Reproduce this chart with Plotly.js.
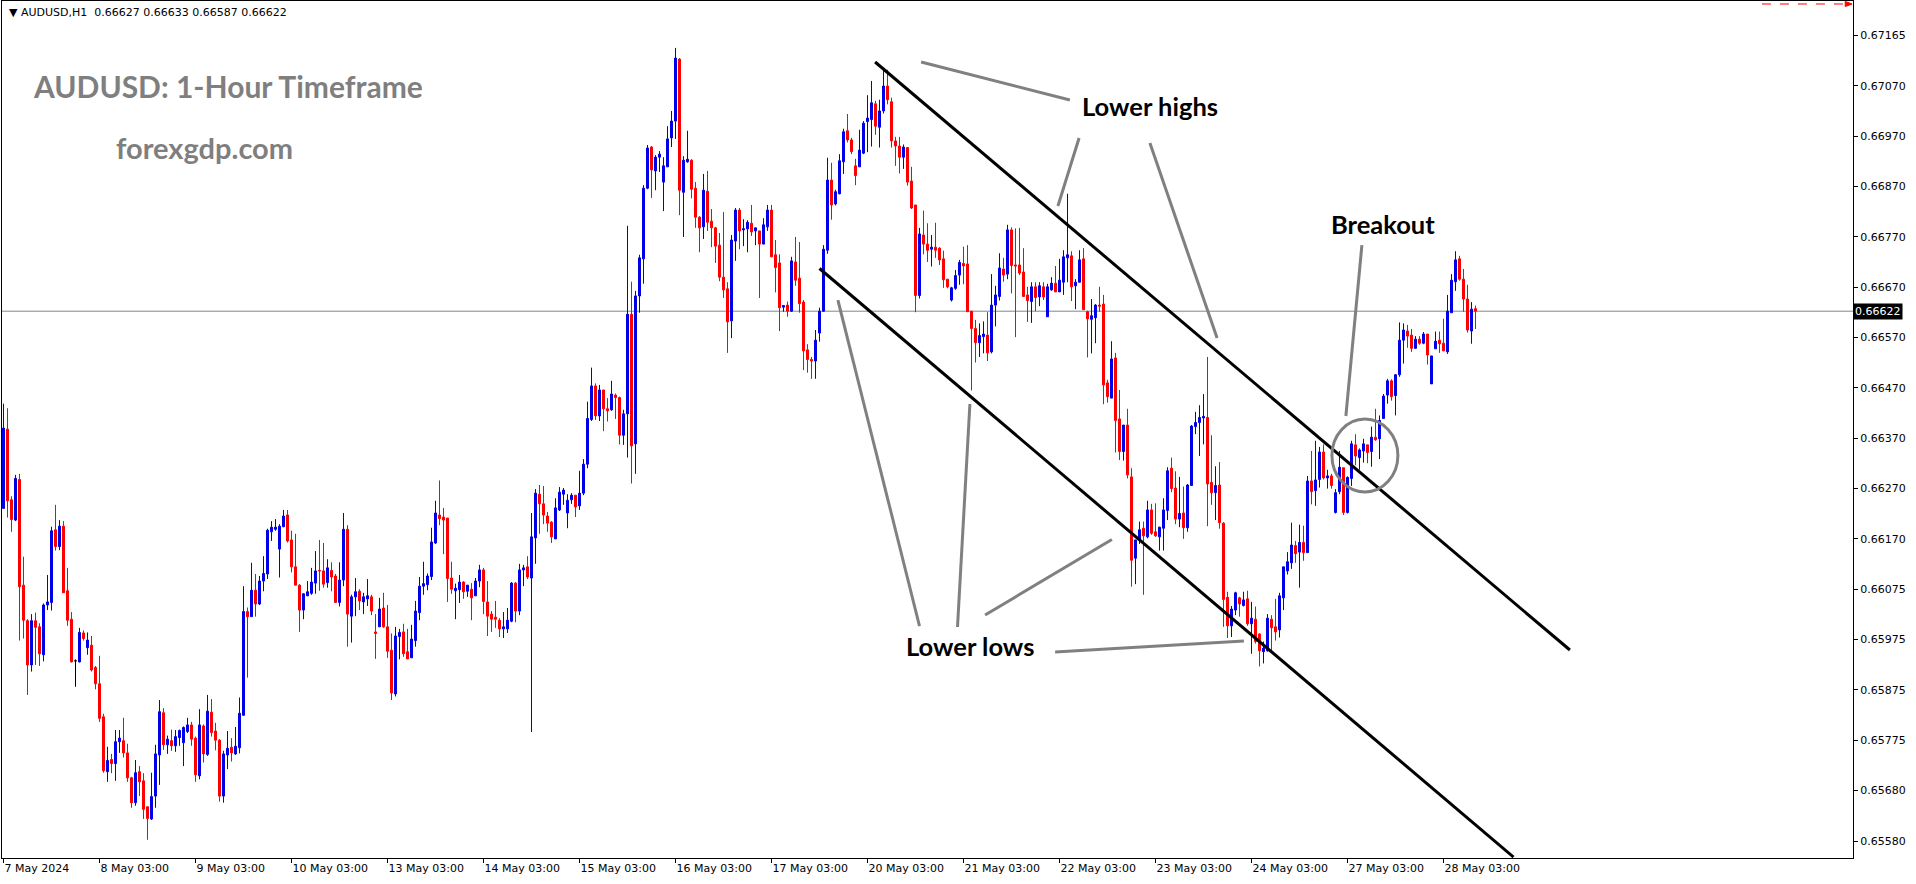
<!DOCTYPE html>
<html><head><meta charset="utf-8">
<script src="https://cdn.plot.ly/plotly-3.0.1.min.js"></script>
<style>html,body{margin:0;padding:0;background:#fff;}#chart{width:1916px;height:884px;}</style>
</head><body><div id="chart"></div>
<script>
// ---- header / last bar ----
const symbolLabel = "AUDUSD,H1";
const lastBarOHLC = ["0.66627", "0.66633", "0.66587", "0.66622"];
const bidPrice = 0.66622;

// ---- hourly candles, bar 0 = 7 May 2024 ----
const openP = [
0.66234,0.66390,0.66251,0.66211,0.66291,0.66083,0.66013,0.65926,0.66013,0.66001,
0.65946,0.66044,0.66049,0.66192,0.66159,0.66199,0.66072,0.66016,0.65934,0.65932,
0.65989,0.65960,0.65965,0.65921,0.65889,0.65824,0.65716,0.65740,0.65732,0.65775,
0.65777,0.65753,0.65704,0.65655,0.65716,0.65698,0.65647,0.65623,0.65668,0.65749,
0.65832,0.65769,0.65777,0.65767,0.65783,0.65773,0.65795,0.65808,0.65782,0.65708,
0.65806,0.65750,0.65833,0.65796,0.65778,0.65668,0.65749,0.65764,0.65751,0.65763,
0.65827,0.66031,0.66021,0.66073,0.66046,0.66091,0.66105,0.66188,0.66193,0.66154,
0.66198,0.66221,0.66172,0.66119,0.66083,0.66034,0.66062,0.66067,0.66087,0.66112,
0.66111,0.66088,0.66112,0.66101,0.66049,0.66093,0.66193,0.66022,0.66060,0.66071,
0.66050,0.66056,0.66060,0.65991,0.66001,0.66038,0.66001,0.65955,0.65869,0.65982,
0.65991,0.65952,0.65940,0.65974,0.66029,0.66081,0.66084,0.66100,0.66166,0.66221,
0.66217,0.66215,0.66097,0.66072,0.66074,0.66089,0.66071,0.66075,0.66062,0.66091,
0.66113,0.66050,0.66026,0.66020,0.66014,0.65997,0.65997,0.66012,0.66087,0.66032,
0.66113,0.66119,0.66097,0.66176,0.66262,0.66243,0.66219,0.66207,0.66174,0.66231,
0.66262,0.66225,0.66251,0.66260,0.66239,0.66264,0.66321,0.66409,0.66475,0.66416,
0.66467,0.66430,0.66428,0.66457,0.66452,0.66378,0.66420,0.66616,0.66361,0.66652,
0.66725,0.66864,0.66945,0.66898,0.66925,0.66876,0.66906,0.66963,0.66996,0.67118,
0.66856,0.66916,0.66919,0.66864,0.66807,0.66788,0.66858,0.66799,0.66786,0.66752,
0.66689,0.66666,0.66603,0.66760,0.66821,0.66782,0.66784,0.66795,0.66780,0.66780,
0.66754,0.66788,0.66821,0.66733,0.66717,0.66630,0.66634,0.66622,0.66719,0.66687,
0.66640,0.66546,0.66527,0.66524,0.66579,0.66622,0.66742,0.66880,0.66833,0.66853,
0.66916,0.66977,0.66959,0.66908,0.66906,0.66933,0.66995,0.66999,0.67030,0.66984,
0.67016,0.67065,0.67034,0.66957,0.66947,0.66925,0.66944,0.66878,0.66831,0.66653,
0.66772,0.66754,0.66744,0.66748,0.66746,0.66725,0.66685,0.66644,0.66667,0.66693,
0.66716,0.66715,0.66622,0.66588,0.66560,0.66572,0.66575,0.66542,0.66634,0.66651,
0.66705,0.66695,0.66782,0.66713,0.66713,0.66699,0.66654,0.66641,0.66670,0.66650,
0.66670,0.66611,0.66664,0.66677,0.66660,0.66679,0.66727,0.66731,0.66672,0.66679,
0.66725,0.66621,0.66606,0.66609,0.66634,0.66636,0.66481,0.66451,0.66530,0.66410,
0.66346,0.66398,0.66296,0.66136,0.66172,0.66195,0.66178,0.66231,0.66188,0.66178,
0.66195,0.66230,0.66313,0.66274,0.66213,0.66225,0.66196,0.66279,0.66395,0.66403,
0.66412,0.66413,0.66285,0.66265,0.66280,0.66205,0.66059,0.66003,0.66034,0.66058,
0.66043,0.66056,0.66007,0.66016,0.65987,0.65952,0.65954,0.66016,0.66001,0.65995,
0.66058,0.66111,0.66127,0.66161,0.66148,0.66167,0.66147,0.66288,0.66269,0.66291,
0.66345,0.66294,0.66298,0.66226,0.66267,0.66314,0.66226,0.66293,0.66359,0.66334,
0.66347,0.66359,0.66346,0.66374,0.66371,0.66411,0.66457,0.66485,0.66456,0.66497,
0.66565,0.66583,0.66575,0.66549,0.66567,0.66559,0.66577,0.66479,0.66548,0.66565,
0.66559,0.66542,0.66619,0.66680,0.66725,0.66685,0.66646,0.66583,0.66627];

const highP = [
0.66440,0.66431,0.66258,0.66300,0.66302,0.66139,0.66016,0.66026,0.66029,0.66008,
0.66047,0.66103,0.66198,0.66241,0.66211,0.66209,0.66117,0.66030,0.65937,0.65999,
0.65994,0.65990,0.65983,0.65924,0.65944,0.65830,0.65765,0.65751,0.65798,0.65798,
0.65822,0.65771,0.65706,0.65739,0.65727,0.65713,0.65647,0.65714,0.65769,0.65857,
0.65841,0.65787,0.65799,0.65798,0.65799,0.65805,0.65822,0.65814,0.65785,0.65839,
0.65809,0.65867,0.65859,0.65812,0.65780,0.65757,0.65796,0.65782,0.65804,0.65862,
0.66081,0.66039,0.66127,0.66105,0.66101,0.66140,0.66194,0.66209,0.66213,0.66203,
0.66231,0.66231,0.66190,0.66184,0.66085,0.66067,0.66091,0.66117,0.66150,0.66172,
0.66166,0.66134,0.66128,0.66105,0.66128,0.66225,0.66201,0.66064,0.66097,0.66075,
0.66068,0.66095,0.66064,0.66026,0.66058,0.66068,0.66044,0.65988,0.66001,0.65997,
0.66007,0.65997,0.66005,0.66052,0.66099,0.66129,0.66106,0.66196,0.66249,0.66289,
0.66235,0.66215,0.66129,0.66086,0.66103,0.66091,0.66083,0.66087,0.66097,0.66123,
0.66117,0.66091,0.66032,0.66052,0.66018,0.66030,0.66038,0.66089,0.66089,0.66125,
0.66123,0.66140,0.66225,0.66272,0.66280,0.66278,0.66227,0.66209,0.66254,0.66276,
0.66274,0.66262,0.66264,0.66260,0.66308,0.66331,0.66444,0.66511,0.66480,0.66477,
0.66467,0.66451,0.66485,0.66460,0.66454,0.66428,0.66790,0.66680,0.66662,0.66733,
0.66870,0.66949,0.66947,0.66929,0.66937,0.66925,0.66986,0.67016,0.67140,0.67120,
0.66927,0.66977,0.66921,0.66876,0.66809,0.66892,0.66898,0.66823,0.66788,0.66776,
0.66817,0.66679,0.66772,0.66825,0.66825,0.66803,0.66801,0.66831,0.66786,0.66780,
0.66805,0.66831,0.66831,0.66762,0.66734,0.66633,0.66641,0.66729,0.66768,0.66758,
0.66644,0.66557,0.66532,0.66585,0.66629,0.66752,0.66924,0.66914,0.66861,0.66931,
0.66981,0.67010,0.66963,0.66922,0.66979,0.66996,0.67047,0.67075,0.67036,0.67038,
0.67095,0.67097,0.67042,0.66965,0.66965,0.66950,0.66944,0.66906,0.66831,0.66786,
0.66820,0.66795,0.66772,0.66796,0.66748,0.66741,0.66685,0.66670,0.66703,0.66723,
0.66749,0.66752,0.66622,0.66605,0.66598,0.66602,0.66620,0.66695,0.66672,0.66736,
0.66727,0.66792,0.66787,0.66785,0.66786,0.66746,0.66670,0.66679,0.66679,0.66679,
0.66679,0.66676,0.66689,0.66711,0.66725,0.66742,0.66853,0.66740,0.66685,0.66742,
0.66746,0.66623,0.66646,0.66636,0.66670,0.66654,0.66487,0.66563,0.66540,0.66467,
0.66398,0.66430,0.66313,0.66172,0.66208,0.66208,0.66249,0.66243,0.66244,0.66198,
0.66254,0.66315,0.66334,0.66307,0.66296,0.66277,0.66282,0.66398,0.66424,0.66437,
0.66459,0.66532,0.66378,0.66317,0.66325,0.66207,0.66070,0.66042,0.66070,0.66060,
0.66070,0.66072,0.66050,0.66041,0.65988,0.65972,0.66026,0.66024,0.66056,0.66068,
0.66119,0.66148,0.66206,0.66170,0.66202,0.66200,0.66298,0.66347,0.66367,0.66355,
0.66360,0.66310,0.66302,0.66272,0.66347,0.66314,0.66297,0.66367,0.66380,0.66352,
0.66371,0.66359,0.66395,0.66430,0.66417,0.66459,0.66489,0.66488,0.66498,0.66600,
0.66598,0.66595,0.66587,0.66573,0.66573,0.66581,0.66577,0.66534,0.66582,0.66582,
0.66607,0.66654,0.66695,0.66740,0.66731,0.66705,0.66674,0.66640,0.66633];

const lowP = [
0.66234,0.66216,0.66188,0.66209,0.65974,0.65978,0.65867,0.65913,0.65926,0.65924,
0.65933,0.66034,0.66033,0.66151,0.66152,0.66068,0.66003,0.65931,0.65883,0.65931,
0.65974,0.65946,0.65913,0.65878,0.65814,0.65714,0.65696,0.65713,0.65698,0.65753,
0.65744,0.65696,0.65645,0.65649,0.65668,0.65623,0.65582,0.65621,0.65645,0.65690,
0.65759,0.65751,0.65757,0.65755,0.65767,0.65727,0.65792,0.65767,0.65696,0.65701,
0.65734,0.65747,0.65785,0.65758,0.65657,0.65655,0.65721,0.65736,0.65749,0.65752,
0.65826,0.65901,0.66021,0.66021,0.66044,0.66071,0.66095,0.66170,0.66190,0.66098,
0.66197,0.66167,0.66108,0.66083,0.65991,0.66016,0.66062,0.66064,0.66066,0.66072,
0.66078,0.66078,0.66071,0.66049,0.66041,0.66081,0.65962,0.65970,0.66022,0.66034,
0.66026,0.66042,0.66024,0.65938,0.66001,0.65999,0.65940,0.65857,0.65864,0.65937,
0.65942,0.65938,0.65940,0.65962,0.66014,0.66064,0.66073,0.66093,0.66164,0.66201,
0.66144,0.66050,0.66066,0.66016,0.66048,0.66056,0.66060,0.66014,0.66062,0.66079,
0.66026,0.65983,0.65991,0.65999,0.65981,0.65979,0.65989,0.66010,0.66010,0.66024,
0.66081,0.66095,0.65794,0.66125,0.66184,0.66203,0.66188,0.66166,0.66174,0.66229,
0.66241,0.66195,0.66243,0.66217,0.66231,0.66260,0.66313,0.66406,0.66408,0.66406,
0.66386,0.66405,0.66426,0.66410,0.66360,0.66359,0.66334,0.66283,0.66302,0.66619,
0.66676,0.66862,0.66845,0.66860,0.66896,0.66819,0.66906,0.66945,0.66961,0.66811,
0.66768,0.66914,0.66844,0.66786,0.66738,0.66764,0.66780,0.66748,0.66717,0.66681,
0.66648,0.66540,0.66569,0.66721,0.66744,0.66750,0.66738,0.66770,0.66752,0.66648,
0.66754,0.66780,0.66729,0.66659,0.66583,0.66621,0.66611,0.66621,0.66672,0.66619,
0.66506,0.66501,0.66489,0.66489,0.66562,0.66621,0.66735,0.66802,0.66830,0.66852,
0.66892,0.66954,0.66931,0.66870,0.66906,0.66931,0.66935,0.66946,0.66969,0.66944,
0.67011,0.67029,0.66944,0.66908,0.66893,0.66902,0.66869,0.66823,0.66620,0.66647,
0.66734,0.66719,0.66710,0.66727,0.66713,0.66668,0.66667,0.66641,0.66664,0.66674,
0.66675,0.66621,0.66466,0.66521,0.66532,0.66539,0.66524,0.66539,0.66592,0.66643,
0.66680,0.66685,0.66657,0.66571,0.66693,0.66651,0.66601,0.66599,0.66622,0.66632,
0.66644,0.66611,0.66662,0.66660,0.66660,0.66654,0.66679,0.66642,0.66626,0.66679,
0.66625,0.66531,0.66539,0.66559,0.66621,0.66439,0.66442,0.66451,0.66344,0.66329,
0.66328,0.66293,0.66080,0.66085,0.66164,0.66064,0.66175,0.66182,0.66178,0.66151,
0.66151,0.66211,0.66266,0.66203,0.66197,0.66174,0.66188,0.66279,0.66380,0.66337,
0.66360,0.66199,0.66241,0.66211,0.66194,0.66001,0.65979,0.65981,0.66024,0.66021,
0.66041,0.66003,0.65948,0.65968,0.65923,0.65929,0.65952,0.65954,0.65974,0.65980,
0.66034,0.66104,0.66115,0.66127,0.66078,0.66131,0.66147,0.66242,0.66239,0.66275,
0.66291,0.66273,0.66273,0.66224,0.66262,0.66221,0.66224,0.66278,0.66319,0.66310,
0.66324,0.66323,0.66316,0.66367,0.66331,0.66411,0.66440,0.66446,0.66417,0.66493,
0.66519,0.66550,0.66542,0.66548,0.66556,0.66557,0.66517,0.66479,0.66548,0.66540,
0.66544,0.66538,0.66619,0.66662,0.66682,0.66621,0.66580,0.66558,0.66587];

const closeP = [
0.66392,0.66249,0.66212,0.66293,0.66080,0.66014,0.65926,0.66013,0.66000,0.65948,
0.66044,0.66050,0.66190,0.66159,0.66199,0.66068,0.66014,0.65932,0.65934,0.65990,
0.65978,0.65975,0.65916,0.65889,0.65821,0.65718,0.65738,0.65732,0.65775,0.65782,
0.65753,0.65704,0.65655,0.65714,0.65696,0.65642,0.65624,0.65667,0.65751,0.65834,
0.65769,0.65780,0.65767,0.65785,0.65797,0.65803,0.65808,0.65780,0.65710,0.65808,
0.65751,0.65835,0.65793,0.65778,0.65668,0.65751,0.65762,0.65753,0.65766,0.65831,
0.66031,0.66021,0.66073,0.66046,0.66091,0.66106,0.66191,0.66197,0.66197,0.66199,
0.66219,0.66170,0.66119,0.66083,0.66034,0.66066,0.66070,0.66089,0.66111,0.66111,
0.66085,0.66117,0.66099,0.66049,0.66093,0.66193,0.66026,0.66060,0.66070,0.66052,
0.66060,0.66062,0.66032,0.65988,0.66036,0.66001,0.65953,0.65871,0.65983,0.65990,
0.65948,0.65938,0.65977,0.66032,0.66081,0.66086,0.66101,0.66168,0.66225,0.66214,
0.66211,0.66096,0.66075,0.66077,0.66089,0.66070,0.66083,0.66058,0.66091,0.66113,
0.66051,0.66022,0.66016,0.66016,0.65997,0.66001,0.66014,0.66087,0.66032,0.66113,
0.66117,0.66099,0.66178,0.66264,0.66243,0.66221,0.66205,0.66178,0.66235,0.66266,
0.66270,0.66250,0.66260,0.66237,0.66264,0.66321,0.66411,0.66475,0.66416,0.66467,
0.66430,0.66426,0.66459,0.66452,0.66378,0.66420,0.66616,0.66357,0.66652,0.66727,
0.66864,0.66943,0.66900,0.66925,0.66931,0.66908,0.66961,0.66996,0.67120,0.66860,
0.66919,0.66921,0.66862,0.66807,0.66786,0.66860,0.66797,0.66786,0.66750,0.66689,
0.66664,0.66601,0.66762,0.66821,0.66780,0.66784,0.66797,0.66778,0.66786,0.66754,
0.66792,0.66821,0.66729,0.66708,0.66629,0.66633,0.66622,0.66721,0.66683,0.66637,
0.66544,0.66527,0.66524,0.66565,0.66622,0.66744,0.66880,0.66831,0.66857,0.66918,
0.66975,0.66959,0.66936,0.66889,0.66939,0.66992,0.67002,0.67032,0.66986,0.67016,
0.67065,0.67038,0.66957,0.66947,0.66925,0.66945,0.66876,0.66825,0.66653,0.66774,
0.66754,0.66742,0.66748,0.66742,0.66723,0.66684,0.66670,0.66668,0.66692,0.66718,
0.66711,0.66621,0.66588,0.66560,0.66574,0.66577,0.66540,0.66634,0.66654,0.66707,
0.66693,0.66782,0.66712,0.66711,0.66697,0.66651,0.66643,0.66670,0.66649,0.66672,
0.66650,0.66670,0.66677,0.66660,0.66683,0.66729,0.66733,0.66670,0.66679,0.66723,
0.66625,0.66607,0.66613,0.66634,0.66632,0.66477,0.66454,0.66528,0.66407,0.66346,
0.66398,0.66300,0.66132,0.66172,0.66192,0.66180,0.66231,0.66185,0.66180,0.66197,
0.66231,0.66308,0.66273,0.66213,0.66224,0.66196,0.66280,0.66396,0.66403,0.66413,
0.66415,0.66282,0.66265,0.66279,0.66206,0.66055,0.66003,0.66036,0.66068,0.66046,
0.66054,0.66007,0.66018,0.65972,0.65954,0.65959,0.66018,0.65999,0.65991,0.66062,
0.66119,0.66129,0.66162,0.66145,0.66167,0.66147,0.66288,0.66267,0.66290,0.66345,
0.66294,0.66298,0.66279,0.66265,0.66315,0.66226,0.66295,0.66361,0.66337,0.66349,
0.66361,0.66344,0.66374,0.66369,0.66407,0.66455,0.66485,0.66454,0.66497,0.66565,
0.66585,0.66573,0.66549,0.66567,0.66559,0.66577,0.66536,0.66534,0.66563,0.66558,
0.66544,0.66622,0.66683,0.66723,0.66685,0.66646,0.66585,0.66626,0.66622];

// ---- axis ticks ----
const xTickBars = [0,24,48,72,96,120,144,168,192,216,240,264,288,312,336,360];
const xTickText = ["7 May 2024","8 May 03:00","9 May 03:00","10 May 03:00","13 May 03:00","14 May 03:00",
  "15 May 03:00","16 May 03:00","17 May 03:00","20 May 03:00","21 May 03:00","22 May 03:00",
  "23 May 03:00","24 May 03:00","27 May 03:00","28 May 03:00"];
const yTickVals = [0.671646,0.670655,0.669665,0.668674,0.667683,0.666693,0.665702,0.664712,0.663721,
  0.662730,0.661740,0.660749,0.659758,0.658768,0.657777,0.656787,0.655796];
const yTickText = ["0.67165","0.67070","0.66970","0.66870","0.66770","0.66670","0.66570","0.66470","0.66370",
  "0.66270","0.66170","0.66075","0.65975","0.65875","0.65775","0.65680","0.65580"];

// ---- drawn channel / annotation lines (bar index, price) ----
const upperChannel = [[217.9, 0.671123], [391.6, 0.659554]];
const lowerChannel = [[204.0, 0.667060], [377.5, 0.655481]];
const pointerLines = [
  [[229.4, 0.671123], [266.6, 0.670375]],
  [[268.9, 0.669628], [263.6, 0.668290]],
  [[286.6, 0.669529], [303.4, 0.665693]],
  [[339.6, 0.667522], [335.6, 0.664158]],
  [[208.6, 0.666440], [229.0, 0.660026]],
  [[241.6, 0.664394], [238.5, 0.660007]],
  [[245.4, 0.660243], [277.1, 0.661728]],
  [[262.9, 0.659515], [310.1, 0.659731]]
];
const breakoutCircle = {x0: 332.1, x1: 348.6, y0: 0.662663, y1: 0.664099};
const labels = [
  {text: "Lower highs", x: 286.6, y: 0.670248},
  {text: "Lower lows", x: 241.5, y: 0.659633},
  {text: "Breakout", x: 344.75, y: 0.667936}
];

// ---- build traces ----
const idx = openP.map((_, i) => i);
const pick = (arr, cond) => idx.filter(cond).map(i => arr[i]);
const notDoji = i => openP[i] !== closeP[i];
const isDoji = i => openP[i] === closeP[i];

const BLUE = '#0000e6', RED = '#ff0000';
const mainTrace = {
  type: 'candlestick',
  x: idx.filter(notDoji), open: pick(openP, notDoji), high: pick(highP, notDoji),
  low: pick(lowP, notDoji), close: pick(closeP, notDoji),
  increasing: {line: {color: BLUE, width: 1}, fillcolor: BLUE},
  decreasing: {line: {color: RED, width: 1}, fillcolor: RED},
  whiskerwidth: 0, hoverinfo: 'skip', showlegend: false
};
const dojiTrace = {
  type: 'candlestick',
  x: idx.filter(isDoji), open: pick(openP, isDoji), high: pick(highP, isDoji),
  low: pick(lowP, isDoji), close: pick(closeP, isDoji),
  increasing: {line: {color: '#000', width: 1}, fillcolor: '#000'},
  decreasing: {line: {color: '#000', width: 1}, fillcolor: '#000'},
  whiskerwidth: 0, hoverinfo: 'skip', showlegend: false
};

const seg = (p, color, w) => ({type: 'line', xref: 'x', yref: 'y',
  x0: p[0][0], y0: p[0][1], x1: p[1][0], y1: p[1][1], line: {color: color, width: w}});

const shapes = [
  {type: 'line', xref: 'paper', yref: 'y', x0: 0, x1: 1, y0: bidPrice, y1: bidPrice,
   line: {color: '#778899', width: 1}, layer: 'below'},
  seg(upperChannel, '#000', 3),
  seg(lowerChannel, '#000', 3),
  ...pointerLines.map(p => seg(p, '#808080', 3)),
  {type: 'circle', xref: 'x', yref: 'y', x0: breakoutCircle.x0, x1: breakoutCircle.x1,
   y0: breakoutCircle.y0, y1: breakoutCircle.y1, line: {color: '#808080', width: 3}},
  {type: 'line', xref: 'paper', yref: 'paper', x0: 0.9508, x1: 0.9960, y0: 0.9965, y1: 0.9965,
   line: {color: '#ff0000', width: 1, dash: 'dash'}},
  {type: 'path', xref: 'paper', yref: 'paper', path: 'M 0.9958 0.9995 L 0.9995 0.9965 L 0.9958 0.9935 Z',
   fillcolor: '#ff0000', line: {color: '#ff0000', width: 1}}
];

const annotations = [
  {xref: 'paper', yref: 'paper', x: 0.0027, y: 0.9866, xanchor: 'left', yanchor: 'middle', showarrow: false,
   text: '\u25BC ' + symbolLabel + '\u00a0\u00a0' + lastBarOHLC.join(' '),
   font: {family: 'DejaVu Sans', size: 11, color: '#000'}},
  {xref: 'paper', yref: 'paper', x: 0.0155, y: 0.9008, xanchor: 'left', yanchor: 'middle', showarrow: false,
   text: '<b>AUDUSD: 1-Hour Timeframe</b>', font: {family: 'Lato', size: 30, color: '#7f7f7f'}},
  {xref: 'paper', yref: 'paper', x: 0.0605, y: 0.8296, xanchor: 'left', yanchor: 'middle', showarrow: false,
   text: '<b>forexgdp.com</b>', font: {family: 'Lato', size: 29, color: '#7f7f7f'}},
  ...labels.map(l => ({xref: 'x', yref: 'y', x: l.x, y: l.y, xanchor: 'center', yanchor: 'middle',
   showarrow: false, text: '<b>' + l.text + '</b>', font: {family: 'Lato', size: 25.5, color: '#000'}})),
  {xref: 'paper', yref: 'y', x: 1, y: bidPrice, xanchor: 'left', yanchor: 'middle', showarrow: false,
   text: bidPrice.toFixed(5), bgcolor: '#000', borderpad: 1,
   font: {family: 'DejaVu Sans', size: 11, color: '#fff'}}
];

const layout = {
  width: 1916, height: 884,
  margin: {l: 2, r: 63, t: 1, b: 26, pad: 0},
  paper_bgcolor: '#fff', plot_bgcolor: '#fff',
  showlegend: false, hovermode: false,
  boxmode: 'overlay', boxgap: 0.5, boxgroupgap: 0,
  xaxis: {type: 'linear', range: [-0.375, 462.375], showgrid: false, zeroline: false,
    showline: true, mirror: true, linecolor: '#000', linewidth: 1,
    ticks: 'outside', ticklen: 4, tickcolor: '#000', tickwidth: 1,
    tickmode: 'array', tickvals: xTickBars, ticktext: xTickText,
    ticklabelposition: 'outside right',
    tickfont: {family: 'DejaVu Sans', size: 11, color: '#000'},
    rangeslider: {visible: false}, fixedrange: true},
  yaxis: {side: 'right', range: [0.6554617, 0.6723232], showgrid: false, zeroline: false,
    showline: true, mirror: true, linecolor: '#000', linewidth: 1,
    ticks: 'outside', ticklen: 4, tickcolor: '#000', tickwidth: 1,
    tickmode: 'array', tickvals: yTickVals, ticktext: yTickText,
    tickfont: {family: 'DejaVu Sans', size: 11, color: '#000'}, fixedrange: true},
  shapes: shapes,
  annotations: annotations
};

Plotly.newPlot('chart', [mainTrace, dojiTrace], layout, {displayModeBar: false, staticPlot: true});
</script>
</body></html>
